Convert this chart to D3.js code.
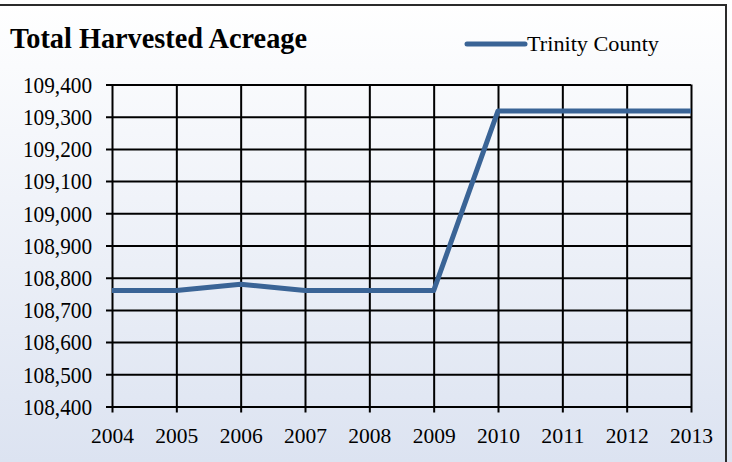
<!DOCTYPE html>
<html>
<head>
<meta charset="utf-8">
<script src="https://cdn.jsdelivr.net/npm/d3@7"></script>
<style>
  html, body { margin: 0; padding: 0; background: #fff; }
  svg { display: block; }
</style>
</head>
<body>
<div id="chart"></div>
<script>
const WIDTH = 732;
const HEIGHT = 462;
const MARGINS = {left: 112, right: 41, top: 84.5, bottom: 55.5};
const FONT = "'Liberation Serif', 'Times New Roman', serif";

const years = [2004, 2005, 2006, 2007, 2008, 2009, 2010, 2011, 2012, 2013];
const acreage = [108760, 108760, 108780, 108760, 108760, 108760, 109318, 109318, 109318, 109318];
const yTicks = [108400, 108500, 108600, 108700, 108800, 108900, 109000, 109100, 109200, 109300, 109400];
const seriesName = "Trinity County";
const title = "Total Harvested Acreage";

const data = years.map((y, i) => ({year: y, value: acreage[i]}));

const svg = d3.select("#chart")
  .append("svg")
    .attr("width", WIDTH)
    .attr("height", HEIGHT)
    .style("font-family", FONT);

// background gradient
const grad = svg.append("defs").append("linearGradient")
    .attr("id", "bg")
    .attr("x1", 0).attr("y1", 0).attr("x2", 0).attr("y2", 1);
grad.append("stop").attr("offset", "0%").attr("stop-color", "#ffffff");
grad.append("stop").attr("offset", "100%").attr("stop-color", "#dce3f1");

svg.append("rect")
    .attr("width", WIDTH)
    .attr("height", HEIGHT)
    .attr("fill", "url(#bg)");

// outer frame (top and right edges visible)
svg.append("path")
    .attr("d", `M0,5 H726 V${HEIGHT}`)
    .attr("fill", "none")
    .attr("stroke", "#2b2b2b")
    .attr("stroke-width", 2);

const x = d3.scaleLinear()
    .domain([years[0], years[years.length - 1]])
    .range([MARGINS.left, WIDTH - MARGINS.right]);

const y = d3.scaleLinear()
    .domain([yTicks[0], yTicks[yTicks.length - 1]])
    .range([HEIGHT - MARGINS.bottom, MARGINS.top]);

// y axis with full-width gridlines
const yAxis = svg.append("g")
    .attr("transform", `translate(${MARGINS.left},0)`)
    .call(d3.axisLeft(y)
        .tickValues(yTicks)
        .tickFormat(d3.format(","))
        .tickSizeInner(-(WIDTH - MARGINS.left - MARGINS.right)));
yAxis.attr("font-family", FONT).attr("font-size", 23);
yAxis.select(".domain").remove();
yAxis.selectAll(".tick line")
    .attr("x1", -6)
    .attr("stroke", "#000")
    .attr("stroke-width", 2);
yAxis.selectAll(".tick text")
    .attr("x", -20)
    .attr("dy", "0.34em")
    .attr("textLength", 69)
    .attr("lengthAdjust", "spacingAndGlyphs")
    .attr("fill", "#000");

// x axis with full-height gridlines
const xAxis = svg.append("g")
    .attr("transform", `translate(0,${HEIGHT - MARGINS.bottom})`)
    .call(d3.axisBottom(x)
        .tickValues(years)
        .tickFormat(d3.format("d"))
        .tickSizeInner(-(HEIGHT - MARGINS.top - MARGINS.bottom)));
xAxis.attr("font-family", FONT).attr("font-size", 22);
xAxis.select(".domain").remove();
xAxis.selectAll(".tick line")
    .attr("y1", 6)
    .attr("stroke", "#000")
    .attr("stroke-width", 2);
xAxis.selectAll(".tick text")
    .attr("y", 36)
    .attr("dy", 0)
    .attr("textLength", 43)
    .attr("lengthAdjust", "spacingAndGlyphs")
    .attr("fill", "#000");

// series line
svg.append("path")
    .datum(data)
    .attr("fill", "none")
    .attr("stroke", "#3a6496")
    .attr("stroke-width", 5)
    .attr("stroke-linejoin", "round")
    .attr("d", d3.line()
        .x(d => x(d.year))
        .y(d => y(d.value)));

// title
svg.append("text")
    .attr("x", 10)
    .attr("y", 48)
    .attr("font-weight", "bold")
    .style("font-size", "29px")
    .attr("textLength", 297)
    .attr("lengthAdjust", "spacingAndGlyphs")
    .attr("fill", "#000")
    .text(title);

// legend
const legend = svg.append("g").attr("transform", "translate(465,44)");
legend.append("line")
    .attr("x1", 2).attr("x2", 60)
    .attr("stroke", "#3a6496")
    .attr("stroke-width", 5)
    .attr("stroke-linecap", "round");
legend.append("text")
    .attr("x", 62)
    .attr("y", 7)
    .style("font-size", "22px")
    .attr("textLength", 132)
    .attr("lengthAdjust", "spacingAndGlyphs")
    .attr("fill", "#000")
    .text(seriesName);
</script>
</body>
</html>
